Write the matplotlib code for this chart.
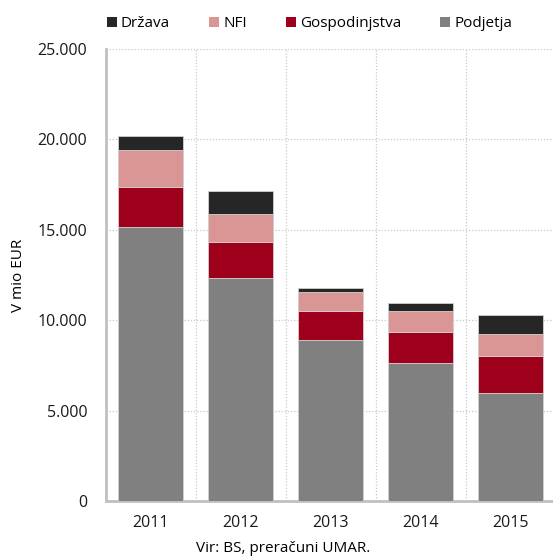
import matplotlib
matplotlib.use("Agg")
import matplotlib.pyplot as plt
import numpy as np

plt.rcParams['font.family'] = ['Open Sans', 'DejaVu Sans']
fs = 11.0
tfs = 11.5

# podatki (mio EUR), odčitano s slike
years = ['2011', '2012', '2013', '2014', '2015']
podjetja = [15170, 12360, 8890, 7660, 5980]
gospodinjstva = [2215, 1980, 1645, 1680, 2030]
nfi = [2025, 1565, 1015, 1185, 1240]
drzava = [800, 1235, 245, 420, 1030]

series = [('Podjetja', podjetja, '#808080'),
          ('Gospodinjstva', gospodinjstva, '#9e001c'),
          ('NFI', nfi, '#d99694'),
          ('Država', drzava, '#262626')]

fig = plt.figure(figsize=(5.53, 5.58), dpi=100)
ax = fig.add_axes([105.5/553, 1-501.3/558, 450/553, (501.3-49)/558])

x = np.arange(len(years))
bottom = np.zeros(len(years))
handles = {}
for name, vals, col in series:
    b = ax.bar(x, vals, 0.715, bottom=bottom, color=col, edgecolor='#d0d0d0',
               linewidth=0.6, label=name, zorder=3)
    handles[name] = b
    bottom += np.array(vals)

ax.set_xlim(-0.5, 4.5)
ax.set_ylim(0, 25000)
ax.set_yticks(np.arange(0, 25001, 5000))
ax.set_yticklabels([f'{v:,}'.replace(',', '.') for v in range(0, 25001, 5000)])
ax.set_xticks(x)
ax.set_xticklabels(years)
ax.set_xticks(x[:-1] + 0.5, minor=True)
ax.tick_params(axis='both', which='both', length=0, labelsize=tfs, colors='#1a1a1a')
ax.tick_params(axis='y', pad=13)
ax.tick_params(axis='x', pad=10)

ax.grid(axis='y', which='major', linestyle=(0, (1, 1.5)), color='#c8c8c8', linewidth=0.9, zorder=0)
ax.grid(axis='x', which='minor', linestyle=(0, (1, 1.5)), color='#c8c8c8', linewidth=0.9, zorder=0)
ax.grid(axis='x', which='major', visible=False)

for s in ['top', 'right']:
    ax.spines[s].set_visible(False)
for s in ['left', 'bottom']:
    ax.spines[s].set_color('#c0c0c0')
    ax.spines[s].set_linewidth(2)

ax.set_ylabel('V mio EUR', fontsize=fs)
ax.yaxis.set_label_coords((26 - 105.5) / 450, (501.3 - 275) / 452.3)

order = ['Država', 'NFI', 'Gospodinjstva', 'Podjetja']
leg = fig.legend([handles[n] for n in order], order, loc='center', ncol=4,
                 bbox_to_anchor=(309.5/553, 1-23.8/558), frameon=False, fontsize=fs,
                 handlelength=0.65, handleheight=0.65, handletextpad=0.28, columnspacing=2.55)
for h in leg.legend_handles:
    h.set_edgecolor('none')

fig.text(283/553, 1-548/558, 'Vir: BS, preračuni UMAR.', ha='center', va='center', fontsize=fs)

fig.savefig('out.png', dpi=100)
